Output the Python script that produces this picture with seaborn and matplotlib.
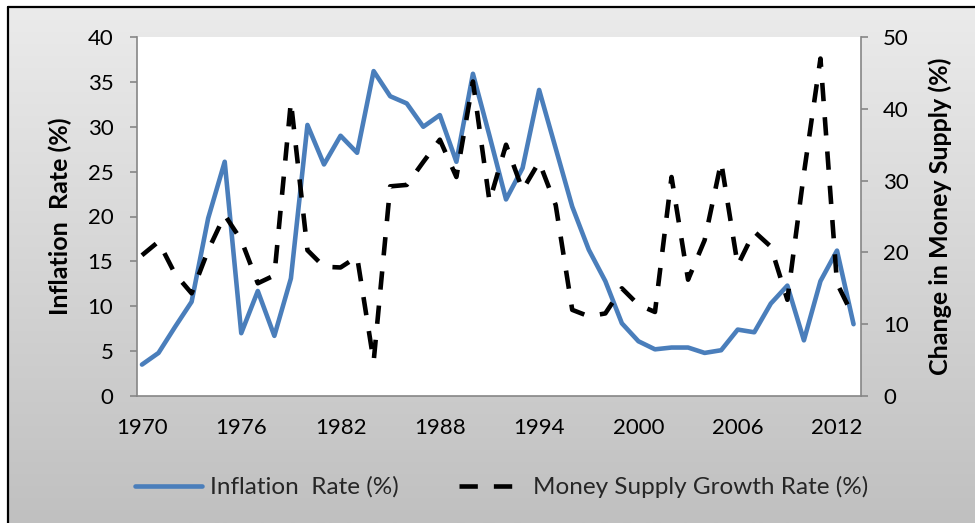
import numpy as np
import pandas as pd
import matplotlib
matplotlib.use("Agg")
import matplotlib.pyplot as plt
import seaborn as sns
from matplotlib.lines import Line2D
from matplotlib.colors import LinearSegmentedColormap

years = list(range(1970, 2014))
inflation = [3.5, 4.8, 7.7, 10.5, 19.8, 26.1, 7.0, 11.7, 6.7, 13.1,
             30.2, 25.8, 29.0, 27.1, 36.2, 33.4, 32.6, 30.0, 31.3, 26.1,
             35.9, 29.0, 21.9, 25.4, 34.1, 27.6, 21.1, 16.3, 12.8, 8.1,
             6.1, 5.2, 5.4, 5.4, 4.8, 5.1, 7.4, 7.1, 10.3, 12.3,
             6.2, 12.8, 16.2, 8.0]
money = [19.6, 21.5, 17.0, 14.3, 20.3, 25.2, 21.7, 15.7, 16.8, 41.0,
         20.3, 18.0, 17.9, 19.4, 4.8, 29.2, 29.4, 32.6, 35.7, 30.5,
         43.8, 27.1, 35.0, 28.7, 32.6, 26.6, 12.0, 11.1, 11.5, 15.0,
         12.7, 11.7, 30.5, 16.2, 21.7, 32.6, 18.2, 22.9, 20.8, 13.4,
         31.0, 47.0, 15.7, 11.0]
x_ticks = list(range(1970, 2013, 6))
left_ticks = list(range(0, 41, 5))
right_ticks = list(range(0, 51, 10))
infl_label = "Inflation  Rate (%)"
money_label = "Money Supply Growth Rate (%)"

df = pd.DataFrame({"Year": years, "Inflation": inflation, "Money": money})

sns.set_theme(style="white")
plt.rcParams['font.family'] = ['Lato', 'DejaVu Sans']

W, H = 975, 523
fig = plt.figure(figsize=(W / 100, H / 100), dpi=100)
fig.patch.set_facecolor('white')

# gradient background panel
bg = fig.add_axes([8 / W, 0, 1 - 8 / W, 1 - 7 / H])
grad = np.linspace(0, 1, 256).reshape(-1, 1)
cmap = LinearSegmentedColormap.from_list('g', ['#ebebeb', '#c0c0c0'])
bg.imshow(grad, aspect='auto', cmap=cmap, extent=[0, 1, 0, 1], origin='upper')
bg.axis('off')
fig.add_artist(Line2D([8 / W, 1], [1 - 7 / H, 1 - 7 / H], transform=fig.transFigure,
                      color='black', lw=1.6))
fig.add_artist(Line2D([8 / W, 8 / W], [0, 1 - 7 / H], transform=fig.transFigure,
                      color='black', lw=1.6))

ax = fig.add_axes([137 / W, 1 - 396 / H, (861 - 137) / W, (396 - 37) / H])
ax.set_facecolor('white')
sns.lineplot(data=df, x="Year", y="Inflation", ax=ax, color='#4A7EBB', lw=3.3,
             legend=False)
ax2 = ax.twinx()
sns.lineplot(data=df, x="Year", y="Money", ax=ax2, color='black', lw=3.3,
             legend=False)
ax2.lines[0].set_dashes([4, 3.5])

ax.set_xlim(1969.7, 2013.45)
ax.set_ylim(0, 40)
ax2.set_ylim(0, 50)
ax.set_xticks(x_ticks)
ax.set_yticks(left_ticks)
ax2.set_yticks(right_ticks)

gray = '#868686'
for s in ['top', 'right']:
    ax.spines[s].set_visible(False)
for s in ['top', 'left', 'bottom']:
    ax2.spines[s].set_visible(False)
for s in ['left', 'bottom']:
    ax.spines[s].set_color(gray)
    ax.spines[s].set_linewidth(1.2)
ax2.spines['right'].set_color(gray)
ax2.spines['right'].set_linewidth(1.2)

ax.tick_params(axis='y', left=True, direction='out', length=5, width=1.2, color=gray,
               pad=12, labelsize=16, labelcolor='black')
ax.tick_params(axis='x', bottom=False, length=0, pad=16, labelsize=16, labelcolor='black')
ax2.tick_params(axis='y', right=True, direction='out', length=5, width=1.2, color=gray,
                pad=11, labelsize=16, labelcolor='black')

ax.set_xlabel('')
ax.set_ylabel(infl_label, fontsize=18, fontweight='bold', color='black')
ax.yaxis.set_label_coords(-0.09, 0.5)
ax2.set_ylabel('Change in Money Supply (%)', fontsize=18, fontweight='bold', color='black')
ax2.yaxis.set_label_coords(1.093, 0.5)

handles = [Line2D([], [], color='#4A7EBB', lw=3.3),
           Line2D([], [], color='black', lw=3.3, dashes=[4, 3.5])]
fig.legend(handles, [infl_label, money_label], loc='center',
           bbox_to_anchor=(502 / W, 1 - 487 / H), ncol=2, frameon=False,
           fontsize=17.5, handlelength=2.75, handletextpad=0.3, columnspacing=2.5)

fig.savefig('out.png', dpi=100)
